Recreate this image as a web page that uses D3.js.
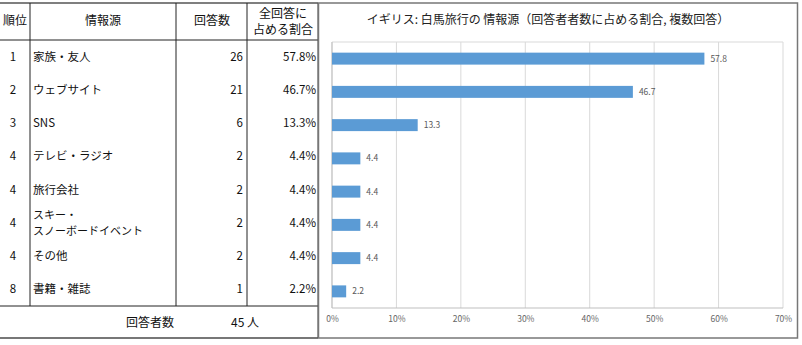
<!DOCTYPE html>
<html>
<head>
<meta charset="utf-8">
<script src="https://cdn.jsdelivr.net/npm/d3@7"></script>
<style>
  body { margin: 0; background: #fff; }
  svg { display: block; font-family: "Noto Sans CJK JP", sans-serif; }
</style>
</head>
<body>
<svg width="802" height="345"></svg>
<script>
// table / chart data
const ranks = [1, 2, 3, 4, 4, 4, 4, 8];
const sources = ["家族・友人", "ウェブサイト", "SNS", "テレビ・ラジオ", "旅行会社", "スキー・\nスノーボードイベント", "その他", "書籍・雑誌"];
const counts = [26, 21, 6, 2, 2, 2, 2, 1];
const shares = [57.8, 46.7, 13.3, 4.4, 4.4, 4.4, 4.4, 2.2];
const respondents = 45;
const xTicks = [0, 10, 20, 30, 40, 50, 60, 70];
const title = "イギリス: 白馬旅行の 情報源（回答者者数に占める割合, 複数回答）";

let svg = d3.select("svg");
const rows = d3.range(sources.length);

//////////// TABLE ////////////
let table = svg.append("g").attr("class", "table");
const colX = [0, 30, 176, 247, 318];
const tTop = 3, tHead = 40, tBody = 306, tFoot = 338;

let rowY = d3.scaleBand().domain(rows).range([tHead, tBody]);

// grid lines
table.append("line").attr("x1", 0).attr("x2", 318).attr("y1", tTop).attr("y2", tTop)
    .attr("stroke", "#555").attr("stroke-width", 1.5);
table.append("line").attr("x1", 0).attr("x2", 318).attr("y1", tHead).attr("y2", tHead)
    .attr("stroke", "#222");
table.append("line").attr("x1", 0).attr("x2", 318).attr("y1", tBody).attr("y2", tBody)
    .attr("stroke", "#222");
table.append("line").attr("x1", 0).attr("x2", 318).attr("y1", tFoot).attr("y2", tFoot)
    .attr("stroke", "#777").attr("stroke-width", 2);
colX.slice(1, 4).forEach(x => {
    table.append("line").attr("x1", x).attr("x2", x).attr("y1", tTop).attr("y2", tBody)
        .attr("stroke", "#222");
});
table.append("line").attr("x1", 318).attr("x2", 318).attr("y1", tTop).attr("y2", tFoot)
    .attr("stroke", "#444");

// header
let head = table.append("g").attr("font-size", 12).attr("fill", "#111").attr("text-anchor", "middle");
head.append("text").attr("x", 15).attr("y", 25).text("順位");
head.append("text").attr("x", 103).attr("y", 25).text("情報源");
head.append("text").attr("x", 212).attr("y", 25).text("回答数");
head.append("text").attr("x", 283).attr("y", 18).text("全回答に");
head.append("text").attr("x", 283).attr("y", 34).text("占める割合");

// body rows
let body = table.append("g").attr("font-size", 11.5).attr("fill", "#111");
body.selectAll(".rank").data(rows).enter().append("text")
    .attr("x", 13).attr("text-anchor", "middle")
    .attr("y", i => rowY(i) + rowY.bandwidth() / 2 + 4)
    .text(i => ranks[i]);

// source names, the long one wraps onto two lines
body.selectAll(".src").data(rows).enter().append("text")
    .attr("x", 33)
    .attr("font-size", i => sources[i].includes("\n") ? 11 : 11.5)
    .each(function (i) {
        const lines = sources[i].split("\n");
        const mid = rowY(i) + rowY.bandwidth() / 2 + 4;
        const y0 = mid - (lines.length - 1) * 8;
        d3.select(this).selectAll("tspan").data(lines).enter().append("tspan")
            .attr("x", 33).attr("y", (d, k) => y0 + k * 16).text(d => d);
    });

body.selectAll(".cnt").data(rows).enter().append("text")
    .attr("x", 243).attr("text-anchor", "end")
    .attr("y", i => rowY(i) + rowY.bandwidth() / 2 + 4)
    .text(i => counts[i]);

body.selectAll(".pct").data(rows).enter().append("text")
    .attr("x", 316).attr("text-anchor", "end")
    .attr("y", i => rowY(i) + rowY.bandwidth() / 2 + 4)
    .text(i => shares[i].toFixed(1) + "%");

// footer
table.append("text").attr("x", 150).attr("y", 327).attr("text-anchor", "middle")
    .attr("font-size", 12).attr("fill", "#111").text("回答者数");
table.append("text").attr("x", 231).attr("y", 327)
    .attr("font-size", 12).attr("fill", "#111").text(respondents + " 人");

//////////// CHART ////////////
let chart = svg.append("g").attr("class", "chart");
chart.append("rect").attr("x", 318.5).attr("y", 3).attr("width", 479).attr("height", 335)
    .attr("fill", "#fff").attr("stroke", "#777").attr("stroke-width", 1.5);

chart.append("text").attr("x", 548).attr("y", 24).attr("text-anchor", "middle")
    .attr("font-size", 12).attr("fill", "#222").text(title);

const plot = {left: 332, right: 783, top: 42, bottom: 308};
let x = d3.scaleLinear().domain([0, 70]).range([plot.left, plot.right]);
let y = d3.scaleBand().domain(rows).range([plot.top, plot.bottom]).paddingInner(0.64).paddingOuter(0.32);

// gridlines
chart.append("g").selectAll("line").data(xTicks).enter().append("line")
    .attr("x1", d => x(d)).attr("x2", d => x(d))
    .attr("y1", plot.top).attr("y2", plot.bottom)
    .attr("stroke", "#d9d9d9");
chart.append("line").attr("x1", plot.left).attr("x2", plot.right)
    .attr("y1", plot.top).attr("y2", plot.top).attr("stroke", "#d9d9d9");
chart.append("line").attr("x1", plot.left).attr("x2", plot.right)
    .attr("y1", plot.bottom).attr("y2", plot.bottom).attr("stroke", "#bfbfbf");
chart.append("line").attr("x1", plot.left).attr("x2", plot.left)
    .attr("y1", plot.top).attr("y2", plot.bottom).attr("stroke", "#bfbfbf");

// x axis
let xAxis = d3.axisBottom(x).tickValues(xTicks).tickFormat(d => d + "%").tickSize(0).tickPadding(8);
let gx = chart.append("g").attr("transform", `translate(0,${plot.bottom})`).call(xAxis);
gx.select(".domain").remove();
gx.selectAll("text").attr("font-size", 8.5).attr("fill", "#666")
    .attr("font-family", "\"Noto Sans CJK JP\", sans-serif");

// bars
chart.append("g").selectAll("rect").data(rows).enter().append("rect")
    .attr("x", x(0)).attr("y", i => y(i))
    .attr("width", i => x(shares[i]) - x(0)).attr("height", y.bandwidth())
    .attr("fill", "#5b9bd5");

chart.append("g").selectAll("text").data(rows).enter().append("text")
    .attr("x", i => x(shares[i]) + 6)
    .attr("y", i => y(i) + y.bandwidth() / 2 + 3)
    .attr("font-size", 8.5).attr("fill", "#595959")
    .text(i => shares[i]);
</script>
</body>
</html>
